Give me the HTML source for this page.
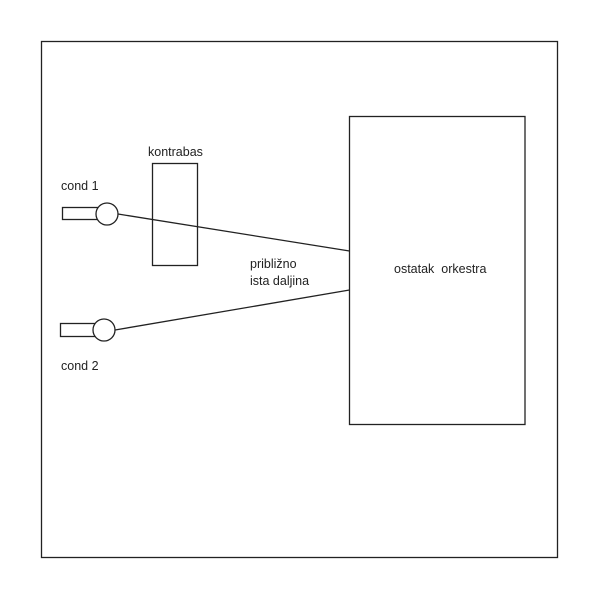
<!DOCTYPE html>
<html><head><meta charset="utf-8"><style>
html,body{margin:0;padding:0;background:#fff;}
svg{display:block}
text{font-family:"Liberation Sans",sans-serif;font-size:12.5px;fill:#222}
</style></head><body>
<svg width="600" height="600" viewBox="0 0 600 600">
<g fill="none" stroke="#222" stroke-width="1.3">
<rect x="41.5" y="41.5" width="516" height="516"/>
<rect x="349.5" y="116.5" width="175.5" height="308"/>
<rect x="152.5" y="163.5" width="45" height="102"/>
<rect x="62.5" y="207.5" width="35" height="12"/>
<rect x="60.5" y="323.5" width="36" height="13"/>
<line x1="118" y1="214" x2="349.5" y2="251"/>
<line x1="115" y1="330" x2="349.5" y2="290"/>
</g>
<circle cx="107" cy="214" r="11" fill="#fff" stroke="#222" stroke-width="1.3"/>
<circle cx="104" cy="330" r="11" fill="#fff" stroke="#222" stroke-width="1.3"/>
<text x="148" y="156">kontrabas</text>
<text x="61" y="190">cond 1</text>
<text x="61" y="370">cond 2</text>
<text x="250" y="268">približno</text>
<text x="250" y="285">ista daljina</text>
<text x="394" y="273">ostatak&#160; orkestra</text>
</svg>
</body></html>
